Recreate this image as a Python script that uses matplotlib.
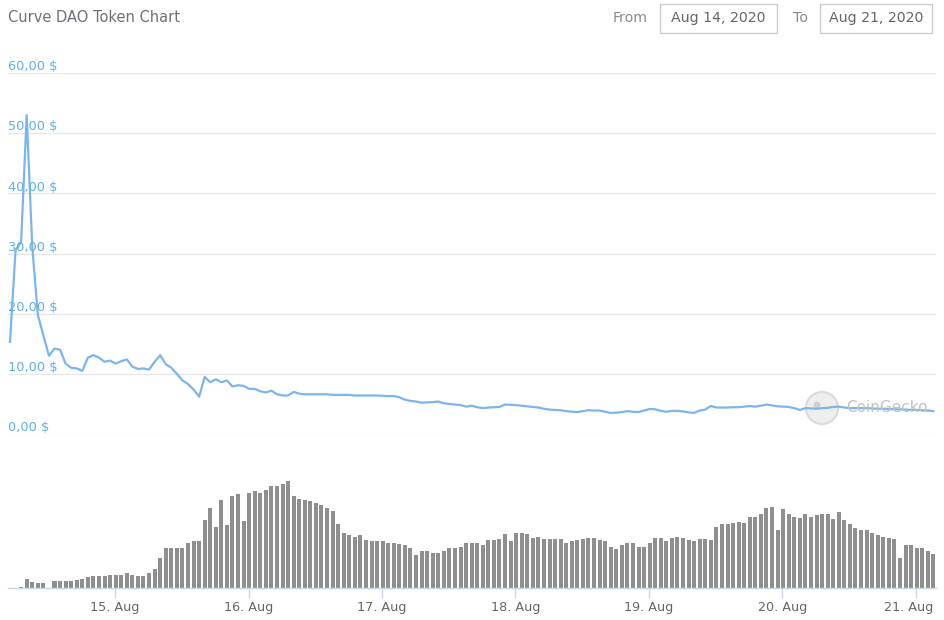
import numpy as np
import matplotlib
matplotlib.use('Agg')
import matplotlib.pyplot as plt
import matplotlib.transforms as mtransforms
from matplotlib.patches import Ellipse, Rectangle

# hourly samples, first one at Aug 14 ~05:07 (hours counted from Aug 14 00:00)
START_HOUR = 5.12

price = [
  15.3, 30.6, 31.9, 53.0, 31.1, 19.8, 16.4, 13.0, 14.2, 14.0,
  11.7, 11.0, 10.9, 10.5, 12.7, 13.1, 12.7, 12.0, 12.2, 11.7,
  12.1, 12.4, 11.2, 10.8, 10.9, 10.7, 12.0, 13.1, 11.6, 11.0,
  10.0, 8.9, 8.3, 7.4, 6.2, 9.5, 8.6, 9.1, 8.6, 8.9,
  7.9, 8.1, 8.0, 7.5, 7.5, 7.1, 6.9, 7.2, 6.6, 6.4,
  6.4, 7.0, 6.7, 6.6, 6.6, 6.6, 6.6, 6.6, 6.5, 6.5,
  6.5, 6.5, 6.4, 6.4, 6.4, 6.4, 6.4, 6.35, 6.3, 6.3,
  6.1, 5.7, 5.5, 5.4, 5.2, 5.25, 5.3, 5.4, 5.1, 5.0,
  4.9, 4.8, 4.55, 4.7, 4.45, 4.3, 4.4, 4.45, 4.5, 4.9,
  4.85, 4.8, 4.7, 4.6, 4.5, 4.4, 4.2, 4.05, 4.0, 3.95,
  3.8, 3.7, 3.65, 3.8, 3.95, 3.9, 3.9, 3.7, 3.5, 3.55,
  3.65, 3.8, 3.7, 3.65, 3.9, 4.15, 4.1, 3.85, 3.7, 3.85,
  3.85, 3.75, 3.6, 3.5, 3.9, 4.05, 4.65, 4.4, 4.4, 4.4,
  4.45, 4.45, 4.55, 4.65, 4.55, 4.7, 4.9, 4.75, 4.6, 4.55,
  4.5, 4.3, 4.0, 4.3, 4.25, 4.2, 4.3, 4.35, 4.5, 4.55,
  4.4, 4.3, 4.3, 4.3, 4.3, 4.25, 4.2, 4.2, 4.15, 4.1,
  4.1, 4.05, 4.0, 4.0, 3.95, 3.9, 3.8,
]

# relative volume (no scale shown on the chart)
volume = [
  0, 0.3, 1.3, 8.7, 6.0, 4.7, 4.7, 0.3, 7.3, 7.3,
  7.3, 7.3, 8.0, 9.0, 11.0, 12.3, 12.3, 12.3, 13.3, 13.3,
  13.3, 14.7, 13.3, 12.3, 12.3, 14.7, 18.7, 29.7, 39.7, 39.7,
  39.7, 39.7, 44.7, 47.0, 47.0, 68.3, 80.3, 60.7, 88.0, 63.3,
  91.7, 94.0, 67.0, 95.3, 96.7, 95.3, 97.7, 101.7, 101.7, 104.0,
  106.7, 91.7, 89.0, 88.0, 87.0, 85.0, 82.7, 80.0, 77.3, 64.0,
  55.3, 52.7, 51.3, 52.7, 47.7, 46.7, 46.7, 46.7, 45.3, 45.3,
  44.0, 42.7, 40.0, 32.7, 36.7, 36.7, 35.3, 35.3, 36.7, 40.0,
  40.0, 41.3, 45.3, 45.3, 45.3, 42.7, 48.0, 48.0, 49.0, 54.0,
  46.7, 55.3, 55.3, 54.0, 50.3, 51.3, 49.0, 49.0, 49.0, 49.0,
  45.3, 46.7, 47.7, 49.0, 50.3, 50.3, 47.7, 46.7, 41.3, 39.0,
  42.7, 45.3, 45.3, 41.3, 41.3, 45.3, 50.3, 50.3, 46.7, 50.3,
  51.3, 50.3, 47.7, 46.7, 49.0, 49.0, 47.7, 61.3, 64.0, 64.0,
  65.3, 66.3, 65.3, 71.3, 71.3, 74.0, 80.0, 81.3, 58.0, 78.7,
  74.0, 71.3, 70.0, 74.0, 71.3, 72.7, 74.0, 74.0, 68.7, 76.3,
  67.7, 64.0, 60.0, 57.7, 57.7, 55.3, 52.7, 51.3, 50.3, 49.0,
  30.3, 42.7, 42.7, 40.3, 40.3, 36.7, 34.0,
]

day_labels = ['15. Aug', '16. Aug', '17. Aug', '18. Aug', '19. Aug', '20. Aug', '21. Aug']
price_ticks = [0, 10, 20, 30, 40, 50, 60]

LINE_COLOR = '#7cb5ec'
LABEL_BLUE = '#5eb0e5'
W, H = 945, 620

hours = START_HOUR + np.arange(len(price))
day_pos = [24 * (i + 1) for i in range(len(day_labels))]
xlim = (4.76, 171.6)

fig = plt.figure(figsize=(W / 100, H / 100), dpi=100)
fig.patch.set_facecolor('white')

# price panel
axp = fig.add_axes([8 / W, 186 / H, 928 / W, 361 / H])
axp.plot(hours, price, color=LINE_COLOR, lw=1.6, solid_joinstyle='round', zorder=3)
axp.set_xlim(xlim)
axp.set_ylim(0, 60)
for v in price_ticks:
  axp.axhline(v, color='#e6e6e6', lw=0.9, zorder=0)
  axp.annotate('{},00 $'.format(v), xy=(0, v), xycoords=('axes fraction', 'data'),
               xytext=(0, 4.5), textcoords='offset points', ha='left', va='center',
               color=LABEL_BLUE, fontsize=9.3)
axp.set_xticks([])
axp.set_yticks([])
for s in axp.spines.values():
  s.set_visible(False)
axp.patch.set_alpha(0)

# watermark
axp.add_patch(Ellipse((822 / W, (H - 408) / H), 32 / W, 32 / H, transform=fig.transFigure,
                      facecolor='#eeeeee', edgecolor='#dadada', lw=1.5, zorder=1))
axp.add_patch(Ellipse((817 / W, (H - 405) / H), 7 / W, 7 / H, transform=fig.transFigure,
                      facecolor='#cfcfcf', edgecolor='none', zorder=1))
fig.text(846 / W, (H - 407) / H, 'CoinGecko', color='#c2c2c2', fontsize=11, va='center', ha='left',
         zorder=1)

# volume panel
axv = fig.add_axes([8 / W, 32 / H, 928 / W, 120 / H])
axv.bar(hours, volume, width=0.72, color='#8f8f8f', zorder=2)
axv.set_xlim(xlim)
axv.set_ylim(0, 120)
axv.set_yticks([])
axv.set_xticks(day_pos)
axv.set_xticklabels(day_labels)
axv.tick_params(axis='x', direction='out', length=7.5, width=1, color='#ccd6eb', pad=2,
                labelsize=9.2, labelcolor='#666666')
for k in ['left', 'right', 'top']:
  axv.spines[k].set_visible(False)
axv.spines['bottom'].set_color('#ccd6eb')
axv.spines['bottom'].set_linewidth(1)
axv.patch.set_alpha(0)

# last label is pushed left so it stays inside the chart
last = axv.get_xticklabels()[-1]
last.set_transform(last.get_transform() + mtransforms.ScaledTranslation(-7 / 100, 0, fig.dpi_scale_trans))

# header
fig.text(8 / W, (H - 17) / H, 'Curve DAO Token Chart', color='#6b7177', fontsize=10.5, va='center')
fig.text(613 / W, (H - 18) / H, 'From', color='#8a8a8a', fontsize=10.2, va='center')
fig.text(793 / W, (H - 18) / H, 'To', color='#8a8a8a', fontsize=10.2, va='center')
for x0, x1, txt in [(660, 777, 'Aug 14, 2020'), (820, 932, 'Aug 21, 2020')]:
  fig.patches.append(Rectangle((x0 / W, (H - 33) / H), (x1 - x0) / W, 29 / H, transform=fig.transFigure,
                               facecolor='white', edgecolor='#cccccc', lw=1, figure=fig))
  fig.text((x0 + x1) / 2 / W, (H - 18) / H, txt, color='#666666', fontsize=10.2, va='center', ha='center')

plt.savefig('out.png', dpi=100)
